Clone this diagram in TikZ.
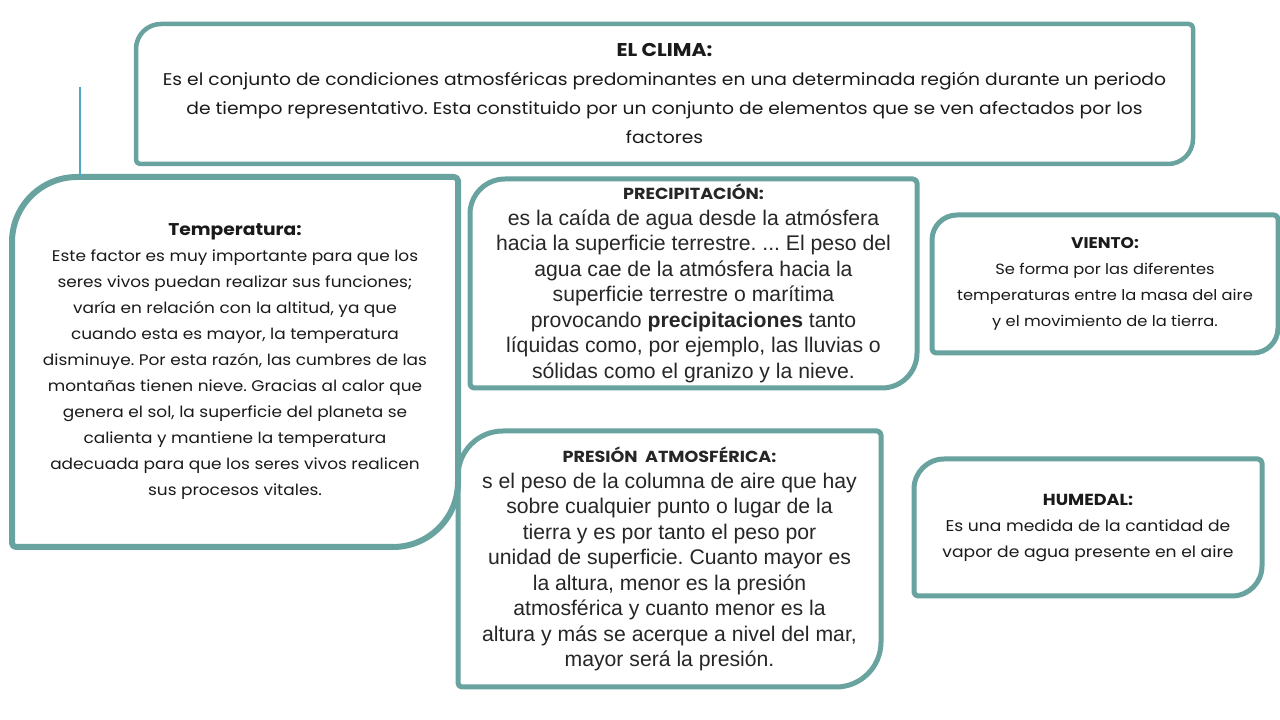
\documentclass[tikz,border=0pt]{standalone}
\usepackage{fontspec}
\setmainfont{Poppins}[FakeStretch=1.1]
\newfontfamily\arialf{Liberation Sans}
\usetikzlibrary{calc}
\definecolor{frameteal}{HTML}{68A39F}
\definecolor{linkblue}{HTML}{4FA8C4}
\definecolor{txtdark}{HTML}{1A1A1A}
\definecolor{txtgrey}{HTML}{262626}
\tikzset{
  framebox/.style={line width=5pt, draw=frameteal, line join=round},
  txtbox/.style={inner sep=0pt, outer sep=0pt, align=center, text=txtdark},
}
\newcommand\diagframe[3][5]{%
  \draw[framebox, line width=#1pt] ([yshift=-#3]#2.north west) arc[start angle=180,end angle=90,radius=#3]
    -- ([xshift=-4]#2.north east) arc[start angle=90,end angle=0,radius=4]
    -- ([yshift=#3]#2.south east) arc[start angle=0,end angle=-90,radius=#3]
    -- ([xshift=4]#2.south west) arc[start angle=270,end angle=180,radius=4] -- cycle;}
\newcommand\ttl[2]{{\rmfamily\fontsize{#1}{26}\selectfont\textbf{#2}}}
\frenchspacing
\begin{document}
\frenchspacing
\begin{tikzpicture}[x=1pt,y=1pt]
\useasboundingbox[fill=white] (0,0) rectangle (1280,720);

% EL CLIMA
\node[txtbox, minimum width=1057, minimum height=140,
  font=\fontsize{17}{29}\selectfont] (clima) at (664.5,626)
  {\ttl{18.5}{EL CLIMA:}\\
   Es el conjunto de condiciones atmosféricas predominantes en una determinada región durante un periodo\\
   de tiempo representativo. Esta constituido por un conjunto de elementos que se ven afectados por los\\
   factores};
\diagframe[4.5]{clima}{25}

% Temperatura
\node[txtbox, minimum width=446, minimum height=370,
  font=\fontsize{15.4}{26}\selectfont] (temp) at (235,358)
  {\ttl{17}{Temperatura:}\\
   Este factor es muy importante para que los\\
   seres vivos puedan realizar sus funciones;\\
   varía en relación con la altitud, ya que\\
   cuando esta es mayor, la temperatura\\
   disminuye. Por esta razón, las cumbres de las\\
   montañas tienen nieve. Gracias al calor que\\
   genera el sol, la superficie del planeta se\\
   calienta y mantiene la temperatura\\
   adecuada para que los seres vivos realicen\\
   sus procesos vitales.};
\diagframe[6]{temp}{65}

% connector line
\coordinate (linktop) at (80,633);
\draw[linkblue, line width=2pt] (linktop) -- (linktop |- temp.north);

% Precipitacion
\node[txtbox, minimum width=447, minimum height=209,
  font=\arialf\fontsize{21.2}{25.5}\selectfont, text=txtgrey] (prec) at (693.5,436.5)
  {\ttl{16}{PRECIPITACIÓN:}\\
   es la caída de agua desde la atmósfera\\
   hacia la superficie terrestre. ... El peso del\\
   agua cae de la atmósfera hacia la\\
   superficie terrestre o marítima\\
   provocando \textbf{precipitaciones} tanto\\
   líquidas como, por ejemplo, las lluvias o\\
   sólidas como el granizo y la nieve.};
\diagframe{prec}{35}

% Viento
\node[txtbox, minimum width=346, minimum height=138,
  font=\fontsize{14.8}{26}\selectfont] (viento) at (1105,436)
  {\ttl{15.5}{VIENTO:}\\
   Se forma por las diferentes\\
   temperaturas entre la masa del aire\\
   y el movimiento de la tierra.};
\diagframe{viento}{25}

% Presion
\node[txtbox, minimum width=423, minimum height=256,
  font=\arialf\fontsize{21.2}{25.5}\selectfont, text=txtgrey] (pres) at (669.5,161)
  {\ttl{16}{PRESIÓN\ \ ATMOSFÉRICA:}\\
   s el peso de la columna de aire que hay\\
   sobre cualquier punto o lugar de la\\
   tierra y es por tanto el peso por\\
   unidad de superficie. Cuanto mayor es\\
   la altura, menor es la presión\\
   atmosférica y cuanto menor es la\\
   altura y más se acerque a nivel del mar,\\
   mayor será la presión.};
\diagframe{pres}{45}

% Humedal
\node[txtbox, minimum width=348, minimum height=137,
  font=\fontsize{15.6}{26}\selectfont] (hum) at (1088,192.5)
  {\ttl{16}{HUMEDAL:}\\
   Es una medida de la cantidad de\\
   vapor de agua presente en el aire};
\diagframe{hum}{30}
\end{tikzpicture}
\end{document}
